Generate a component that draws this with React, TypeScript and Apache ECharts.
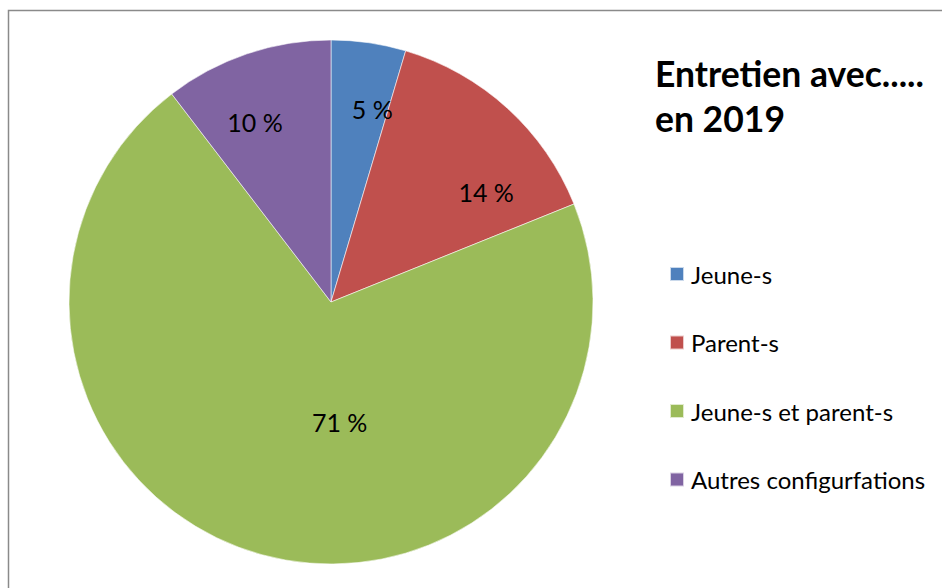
import React, { useEffect, useRef } from "react";
import * as echarts from "echarts";

const categories = ["Jeune-s", "Parent-s", "Jeune-s et parent-s", "Autres configurfations"];
const values = [4.6, 14.3, 70.7, 10.4];
const colors = ["#4F81BD", "#C0504D", "#9BBB59", "#8064A2"];
const labelOffsets = [
  [22, -60],
  [65, -11],
  [44, -9],
  [-33, -53],
];
const titleText = "Entretien avec.....\nen 2019";

export default function App() {
  const ref = useRef<HTMLDivElement>(null);
  useEffect(() => {
    document.body.style.margin = "0";
    const chart = echarts.init(ref.current!, undefined, { renderer: "svg" });
    chart.setOption({
      animation: false,
      backgroundColor: "#ffffff",
      title: {
        text: titleText,
        left: 655,
        top: 51,
        padding: 0,
        textStyle: {
          fontFamily: "Lato",
          fontWeight: "bold",
          fontSize: 35.5,
          lineHeight: 45,
          color: "#000000",
        },
      },
      legend: {
        orient: "vertical",
        left: 669,
        top: 262,
        padding: 0,
        itemWidth: 14,
        itemHeight: 14,
        itemGap: 44.5,
        icon: "rect",
        selectedMode: false,
        data: categories,
        textStyle: {
          fontFamily: "Lato",
          fontSize: 24,
          lineHeight: 24,
          color: "#000000",
          padding: [0, 0, 0, 2],
        },
      },
      graphic: [
        {
          type: "rect",
          shape: { x: 8.5, y: 10.5, width: 1200, height: 1200 },
          style: { fill: "none", stroke: "#8a8a8a", lineWidth: 1.5 },
          silent: true,
        },
      ],
      series: [
        {
          type: "pie",
          center: [331, 302],
          radius: [0, 262],
          startAngle: 90,
          clockwise: true,
          avoidLabelOverlap: false,
          itemStyle: { borderColor: "rgba(255,255,255,0.7)", borderWidth: 0.8 },
          label: {
            show: true,
            position: "inside",
            fontFamily: "Lato",
            fontSize: 25,
            color: "#000000",
            formatter: (p: any) => Math.round(p.percent) + " %",
          },
          labelLine: { show: false },
          emphasis: { disabled: true },
          data: categories.map((name, i) => ({
            name,
            value: values[i],
            itemStyle: { color: colors[i] },
            label: { offset: labelOffsets[i] },
          })),
        },
      ],
    });
    return () => chart.dispose();
  }, []);
  return (
    <div
      ref={ref}
      style={{ position: "fixed", left: 0, top: 0, width: 942, height: 588 }}
    />
  );
}
